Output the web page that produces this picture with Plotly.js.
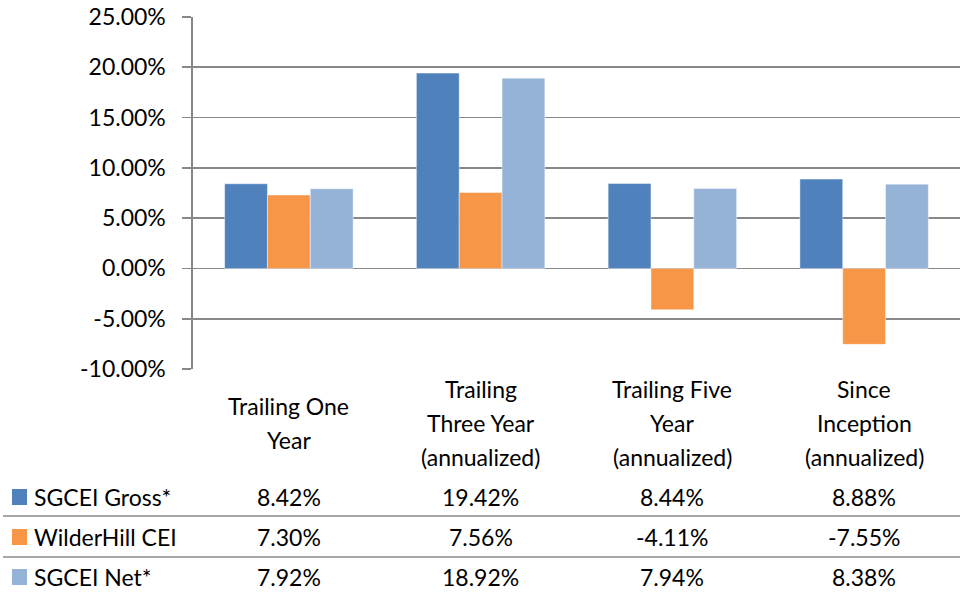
<!DOCTYPE html>
<html>
<head>
<meta charset="utf-8">
<script src="https://cdn.plot.ly/plotly-3.0.1.min.js"></script>
<style>html,body{margin:0;padding:0;background:#fff;}#chart{width:960px;height:593px;}</style>
</head>
<body>
<div id="chart"></div>
<script>
// ---- data ----
const categories = ["Trailing One Year", "Trailing Three Year (annualized)", "Trailing Five Year (annualized)", "Since Inception (annualized)"];
const categoryLines = [
  ["Trailing One", "Year"],
  ["Trailing", "Three Year", "(annualized)"],
  ["Trailing Five", "Year", "(annualized)"],
  ["Since", "Inception", "(annualized)"]
];
const seriesNames = ["SGCEI Gross*", "WilderHill CEI", "SGCEI Net*"];
const sgceiGross = [0.0842, 0.1942, 0.0844, 0.0888];
const wilderHill = [0.0730, 0.0756, -0.0411, -0.0755];
const sgceiNet = [0.0792, 0.1892, 0.0794, 0.0838];
const seriesValues = [sgceiGross, wilderHill, sgceiNet];
const seriesColors = ["#4F81BD", "#F79646", "#95B3D7"];
const yTickVals = [-0.10, -0.05, 0, 0.05, 0.10, 0.15, 0.20, 0.25];

// ---- layout helpers ----
const W = 960, H = 593;
const py = y => 1 - y / H;
const px = x => x / W;
const FONT = "Lato, 'Open Sans', sans-serif";
const FS = 23;
const fmt = v => (v * 100).toFixed(2) + "%";

const traces = seriesNames.map((name, i) => ({
  type: "bar",
  name: name,
  x: categories,
  y: seriesValues[i],
  marker: { color: seriesColors[i], line: { color: "rgba(255,255,255,0.45)", width: 1 } },
  hoverinfo: "skip"
}));

const annotations = [];
// category labels
categoryLines.forEach((lines, ci) => {
  const n = lines.length;
  lines.forEach((t, li) => {
    const yc = 423 + (li - (n - 1) / 2) * 34;
    annotations.push({
      xref: "x", yref: "paper", x: categories[ci], y: py(yc),
      text: t, showarrow: false, xanchor: "center", yanchor: "middle",
      font: { family: FONT, size: FS, color: "#000" }
    });
  });
});
// data table rows
const rowY = [497, 537, 577];
const shapes = [];
seriesNames.forEach((name, si) => {
  annotations.push({
    xref: "paper", yref: "paper", x: px(32), y: py(rowY[si]),
    text: name, showarrow: false, xanchor: "left", yanchor: "middle",
    font: { family: FONT, size: FS, color: "#000" }
  });
  shapes.push({
    type: "rect", xref: "paper", yref: "paper",
    x0: px(12), x1: px(27), y0: py(rowY[si] - 8), y1: py(rowY[si] + 8),
    fillcolor: seriesColors[si], line: { width: 0 }
  });
  seriesValues[si].forEach((v, ci) => {
    annotations.push({
      xref: "x", yref: "paper", x: categories[ci], y: py(rowY[si]),
      text: fmt(v), showarrow: false, xanchor: "center", yanchor: "middle",
      font: { family: FONT, size: FS, color: "#000" }
    });
  });
});
// table separator lines
[516, 557].forEach(y => {
  shapes.push({
    type: "line", xref: "paper", yref: "paper",
    x0: px(3), x1: 1, y0: py(y), y1: py(y),
    line: { color: "#888888", width: 1.5 }
  });
});

const layout = {
  width: W, height: H,
  margin: { l: 0, r: 0, t: 0, b: 0 },
  paper_bgcolor: "#fff", plot_bgcolor: "#fff",
  showlegend: false,
  barmode: "group",
  bargap: 0.33,
  bargroupgap: 0,
  xaxis: {
    domain: [px(193), 1],
    showticklabels: false,
    showgrid: false,
    showline: false,
    zeroline: false,
    fixedrange: true
  },
  yaxis: {
    domain: [py(369), py(17)],
    range: [-0.10, 0.25],
    tickvals: yTickVals,
    ticktext: yTickVals.map(fmt),
    showgrid: true,
    gridcolor: "#888888",
    gridwidth: 1.6,
    zeroline: false,
    showline: true,
    linecolor: "#888888",
    linewidth: 1.6,
    ticks: "outside",
    ticklen: 9,
    tickcolor: "#888888",
    tickwidth: 1.6,
    ticklabelstandoff: 12,
    tickfont: { family: FONT, size: FS, color: "#000" },
    fixedrange: true
  },
  annotations: annotations,
  shapes: shapes
};

Plotly.newPlot("chart", traces, layout, { displayModeBar: false, staticPlot: true });
</script>
</body>
</html>
